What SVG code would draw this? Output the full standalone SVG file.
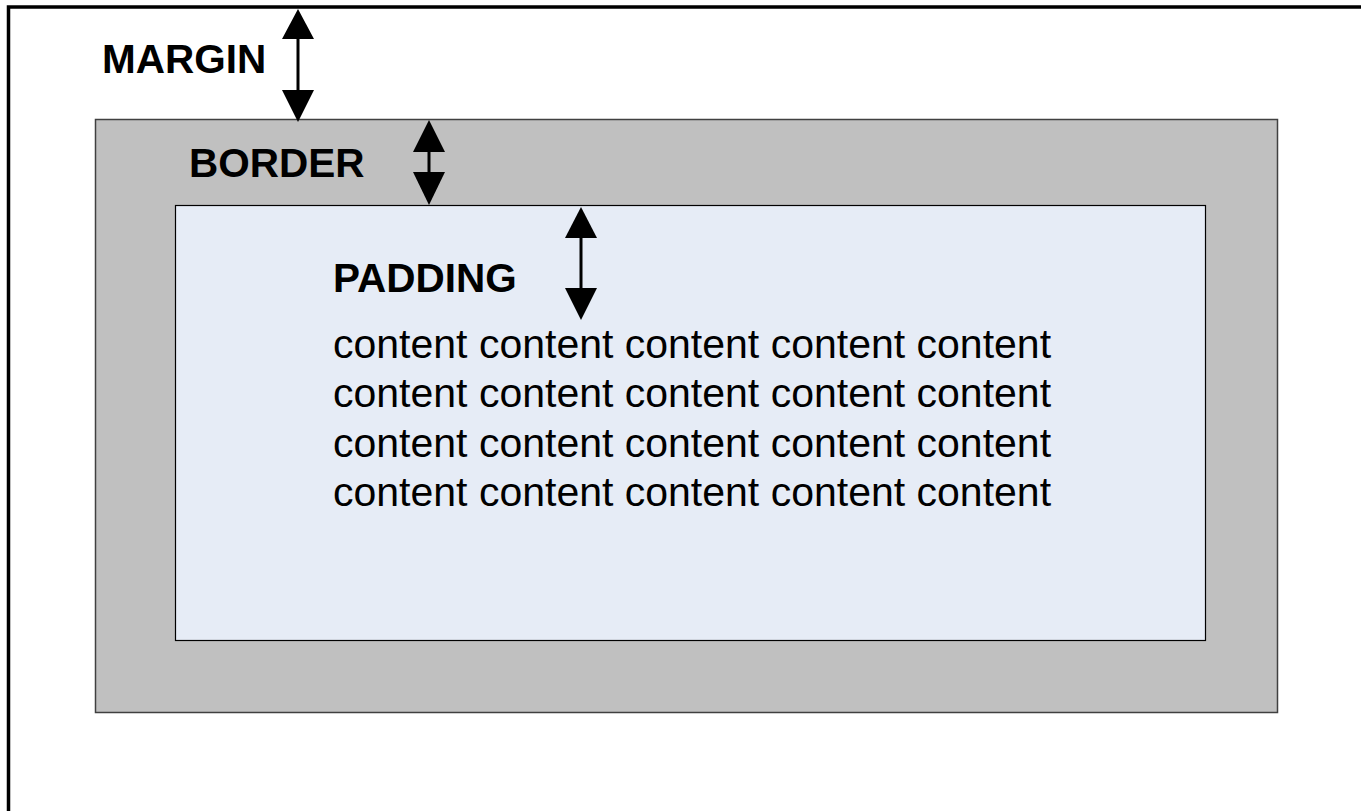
<svg xmlns="http://www.w3.org/2000/svg" width="1361" height="811" viewBox="0 0 1361 811">
<style>
.lbl{font-family:"Liberation Sans",Arial,sans-serif;font-weight:bold;font-size:40.5px;fill:#000}
.ct{font-family:"Liberation Sans",Arial,sans-serif;font-size:41px;fill:#000}
.ar{stroke:#000;stroke-width:3;fill:none}
.hd{fill:#000}
</style>
<rect width="1361" height="811" fill="#fff"/>
<g id="margin-box"><rect x="8.5" y="7" width="1400" height="900" fill="#fff" stroke="#000" stroke-width="3.5"/></g>
<g id="border-box"><rect x="95.5" y="119.5" width="1182" height="593" fill="#c0c0c0" stroke="#404040" stroke-width="1.5"/></g>
<g id="padding-box"><rect x="175.5" y="205.5" width="1030" height="435" fill="#e6ecf6" stroke="#000" stroke-width="1.2"/></g>
<g id="labels">
<text class="lbl" x="102" y="73">MARGIN</text>
<text class="lbl" x="189" y="177">BORDER</text>
<text class="lbl" x="333" y="292">PADDING</text>
</g>
<g id="content">
<text class="ct" x="333" y="358">content content content content content</text>
<text class="ct" x="333" y="407">content content content content content</text>
<text class="ct" x="333" y="457">content content content content content</text>
<text class="ct" x="333" y="506">content content content content content</text>
</g>
<g id="connectors">
<line class="ar" x1="298" y1="36" x2="298" y2="92"/>
<polygon class="hd" points="298,9 282,39 314,39"/>
<polygon class="hd" points="298,122 282,90 314,90"/>
<line class="ar" x1="429" y1="148" x2="429" y2="176"/>
<polygon class="hd" points="429,120 413,152 445,152"/>
<polygon class="hd" points="429,205 413,172 445,172"/>
<line class="ar" x1="581" y1="235" x2="581" y2="291"/>
<polygon class="hd" points="581,207 565,238 597,238"/>
<polygon class="hd" points="581,320 565,288 597,288"/>
</g>
</svg>
